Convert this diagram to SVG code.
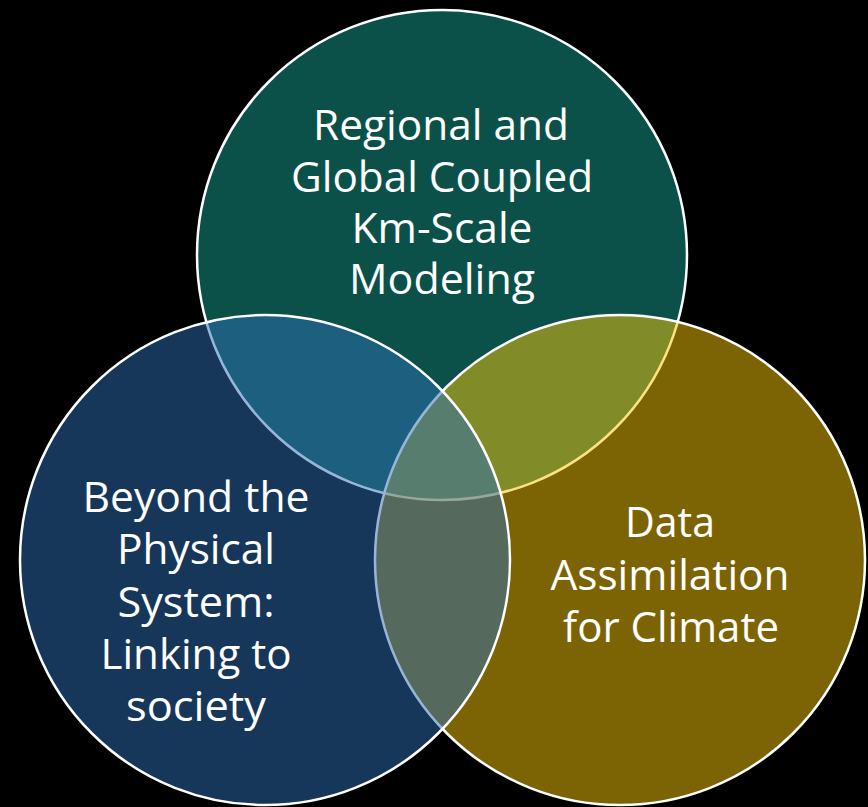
<svg xmlns="http://www.w3.org/2000/svg" width="868" height="807" viewBox="0 0 868 807">
  <style>
    .ring { stroke: #ffffff; stroke-width: 2.5; fill-opacity: 0.5; }
    .label { font-family: "Open Sans", "Noto Sans", "Liberation Sans", sans-serif; font-size: 42px; fill: #ffffff; text-anchor: middle; }
  </style>
  <rect width="868" height="807" fill="#000000"/>
  <!-- Three half-transparent rings; drawing order top, right, left gives the blended overlaps -->
  <g id="regional-global">
    <circle class="ring" cx="442" cy="255" r="245" fill="#16A292"/>
  </g>
  <g id="data-assimilation">
    <circle class="ring" cx="620" cy="560" r="245" fill="#F8C80A"/>
  </g>
  <g id="beyond-physical">
    <circle class="ring" cx="265" cy="560" r="245" fill="#2E6EB4"/>
  </g>
  <!-- Labels sit above all fills so they stay pure white -->
  <g id="regional-global-label">
    <text class="label" x="441" y="140" textLength="256" lengthAdjust="spacingAndGlyphs">Regional and</text>
    <text class="label" x="442" y="192" textLength="302" lengthAdjust="spacingAndGlyphs">Global Coupled</text>
    <text class="label" x="442" y="243" textLength="181" lengthAdjust="spacingAndGlyphs">Km-Scale</text>
    <text class="label" x="442" y="294" textLength="186" lengthAdjust="spacingAndGlyphs">Modeling</text>
  </g>
  <g id="data-assimilation-label">
    <text class="label" x="670" y="537" textLength="90" lengthAdjust="spacingAndGlyphs">Data</text>
    <text class="label" x="670" y="590" textLength="239" lengthAdjust="spacingAndGlyphs">Assimilation</text>
    <text class="label" x="671" y="642" textLength="216" lengthAdjust="spacingAndGlyphs">for Climate</text>
  </g>
  <g id="beyond-physical-label">
    <text class="label" x="196" y="512" textLength="227" lengthAdjust="spacingAndGlyphs">Beyond the</text>
    <text class="label" x="196" y="564" textLength="158" lengthAdjust="spacingAndGlyphs">Physical</text>
    <text class="label" x="196" y="617" textLength="157" lengthAdjust="spacingAndGlyphs">System:</text>
    <text class="label" x="196" y="669" textLength="191" lengthAdjust="spacingAndGlyphs">Linking to</text>
    <text class="label" x="196" y="721" textLength="140" lengthAdjust="spacingAndGlyphs">society</text>
  </g>
  <g id="connectors"/>
</svg>
